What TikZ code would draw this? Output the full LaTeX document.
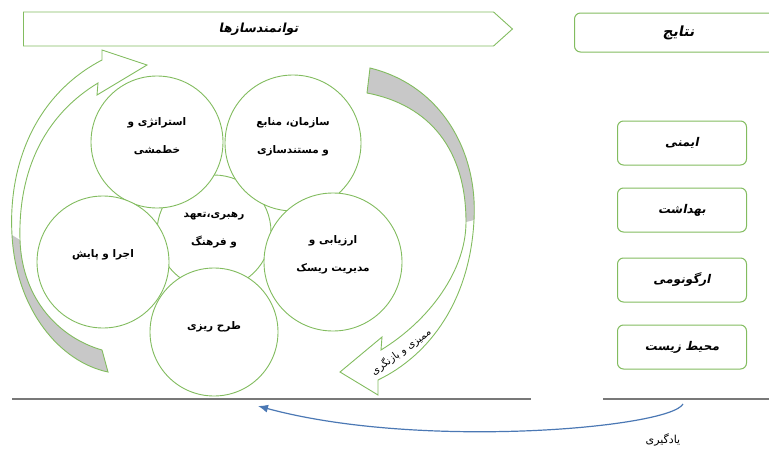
\documentclass[tikz,border=0pt]{standalone}
\usepackage{fontspec}
\usetikzlibrary{shapes.symbols, positioning, arrows.meta}
\TeXXeTstate=1
\newfontfamily\arabicfont[Script=Arabic]{DejaVu Sans}
\newfontfamily\arabicslfont[Script=Arabic,FakeSlant=0.2]{DejaVu Sans}
\newcommand{\fa}[1]{\beginR #1\endR}
\definecolor{ringGreen}{RGB}{130,188,95}
\definecolor{backGray}{RGB}{200,200,200}
\definecolor{lineGray}{RGB}{120,120,120}
\definecolor{learnBlue}{RGB}{75,120,180}

\begin{document}
\begin{tikzpicture}[x=1pt, y=-1pt,
              ringNode/.style={
                circle, draw=ringGreen, line width=0.9pt, fill=white, inner sep=0pt
             },
              ringText/.style={
                align=center, inner sep=0pt,
                font=\arabicfont\bfseries\fontsize{10.5}{28}\selectfont
             },
              resultBox/.style={
                rounded corners=6pt, draw=ringGreen, line width=1pt,
                minimum width=129pt, minimum height=44pt,
                font=\arabicslfont\bfseries\fontsize{12}{14}\selectfont
             },
              bandArrow/.style={draw=ringGreen, line width=0.9pt},
              baseLine/.style={draw=lineGray, line width=1.5pt} ]
              \useasboundingbox (0,0) rectangle (769,450);
              % banner
              \node[signal, signal to=east, signal from=nowhere, signal pointer angle=84,
                draw=ringGreen, line width=0.9pt, minimum width=489pt, minimum height=34pt,
                inner sep=0pt, anchor=west,
                font=\arabicslfont\bfseries\fontsize{12.5}{14}\selectfont](t) at (23,29){\fa{توانمندسازها}};
              % left curved arrow
              \fill[backGray] (12,235) .. controls (16,310) and (60,362) .. (108,372) -- (102,350)
                .. controls (60,338) and (22,300) .. (20,240) -- cycle;
              \draw[bandArrow] (102,60) .. controls (35,95) and (8,165) .. (12,235)
                .. controls (16,310) and (60,362) .. (108,372) -- (102,350)
                .. controls (60,338) and (22,300) .. (20,240)
                .. controls (18,170) and (45,115) .. (98,83) -- (97,95) -- (147,65) -- (102,50) -- cycle;
              % right curved arrow
              \fill[backGray] (370,68) .. controls (440,85) and (478,150) .. (474,220) -- (466,222)
                .. controls (466,150) and (430,105) .. (367,93) -- cycle;
              \draw[bandArrow] (367,93) -- (370,68) .. controls (440,85) and (478,150) .. (474,220)
                .. controls (470,300) and (430,355) .. (378,380) -- (378,395) -- (340,372) -- (382,337)
                -- (381,350) .. controls (430,320) and (466,270) .. (466,222)
                .. controls (466,150) and (430,105) .. (367,93) -- cycle;
              \node[rotate=36, font=\arabicfont\fontsize{10}{12}\selectfont](m) at (401,352){\fa{ممیزی و بازنگری}};
              % rings
              \node[ringNode, minimum size=114pt](c) at (214,232){};
              \node[ringNode, minimum size=132pt](a) at (157,142){};
              \node[ringText](ta) at ([yshift=6pt]a.center){\fa{استراتژی و}\\\fa{خطمشی}};
              \node[ringNode, minimum size=136pt](b) at (293,143){};
              \node[ringText](tb) at ([yshift=6pt]b.center){\fa{سازمان، منابع}\\\fa{و مستندسازی}};
              \node[ringNode, minimum size=132pt](j) at (103,262){};
              \node[ringText](tj) at ([yshift=7pt]j.center){\fa{اجرا و پایش}};
              \node[ringNode, minimum size=138pt](e) at (333,262){};
              \node[ringText](te) at ([yshift=7pt]e.center){\fa{ارزیابی و}\\\fa{مدیریت ریسک}};
              \node[ringNode, minimum size=128pt](p) at (214,332){};
              \node[ringText](tp) at ([yshift=5pt]p.center){\fa{طرح ریزی}};
              \node[ringText](tc) at ([yshift=2pt]c.center){\fa{رهبری،تعهد}\\\fa{و فرهنگ}};
              % results
              \node[resultBox, minimum width=208pt, minimum height=39pt, anchor=west,
                font=\arabicslfont\bfseries\fontsize{14}{16}\selectfont](n) at (574,32.5){\fa{نتایج}};
              \node[resultBox](r1) at (682,143){\fa{ایمنی}};
              \node[resultBox, below=22pt of r1](r2){\fa{بهداشت}};
              \node[resultBox, below=25pt of r2](r3){\fa{ارگونومی}};
              \node[resultBox, below=22pt of r3](r4){\fa{محیط زیست}};
              % base lines and learning loop
              \coordinate (l1) at (12,399);
              \coordinate (l2) at (531,399);
              \coordinate (l3) at (603,399);
              \coordinate (l4) at (769,399);
              \draw[baseLine] (l1) -- (l2);
              \draw[baseLine] (l3) -- (l4);
              \coordinate (ys) at (683,404);
              \coordinate (ye) at (258,406);
              \draw[learnBlue, line width=1.2pt, -{Latex[length=10pt,width=8pt]}]
                (ys) .. controls (670,428) and (420,450) .. (ye);
              \node[font=\arabicfont\fontsize{11}{13}\selectfont](y) at (663,440){\fa{یادگیری}};
            \end{tikzpicture}
\end{document}
